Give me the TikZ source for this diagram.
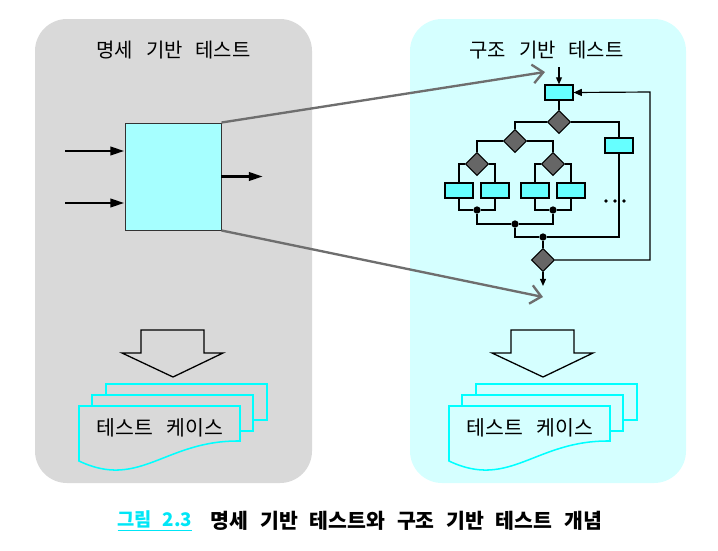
\documentclass[tikz,border=0pt]{standalone}
\usepackage{fontspec}
\setmainfont{Noto Sans CJK KR}[WordSpace=2.9]
\newfontfamily\capfont{Noto Sans CJK KR}[WordSpace=2.5]
\usetikzlibrary{arrows.meta,shapes.geometric}

\definecolor{specgray}{HTML}{D9D9D9}
\definecolor{structcyan}{HTML}{D5FFFF}
\definecolor{boxcyan}{HTML}{A6FFFF}
\definecolor{stepcyan}{HTML}{66FFFF}
\definecolor{dmdgray}{HTML}{666666}
\definecolor{linegray}{HTML}{6E6E6E}
\definecolor{doccyan}{HTML}{00FFFF}
\definecolor{capcyan}{HTML}{00E6F6}

\tikzset{
  stepbox/.style={draw=black, fill=stepcyan, line width=1pt, minimum width=0.84cm, minimum height=0.45cm, inner sep=0pt},
  decide/.style={diamond, draw=black, fill=dmdgray, line width=0.9pt, minimum width=0.69cm, minimum height=0.69cm, inner sep=0pt},
  joint/.style={circle, fill=black, minimum size=0.22cm, inner sep=0pt},
  flow/.style={line width=1pt},
  inarrow/.style={-{Triangle[length=12pt,width=7pt]}, line width=2.4pt},
  zoomline/.style={linegray, line width=2pt, -{Straight Barb[length=9pt,width=16pt]}},
  docsheet/.style={draw=doccyan, line width=1.3pt},
  paneltitle/.style={font=\fontsize{17}{19}\selectfont},
  doctext/.style={font=\fontsize{17.5}{19}\selectfont},
  captext/.style={font=\capfont\bfseries\fontsize{17.5}{19}\selectfont},
}

\begin{document}
\begin{tikzpicture}[x=0.03cm,y=-0.03cm]
  \useasboundingbox (0,0) rectangle (718,550);
  % panels
  \fill[specgray, rounded corners=0.96cm] (35,19) rectangle (312,483);
  \fill[structcyan, rounded corners=0.96cm] (410,19) rectangle (686,483);
  \node[paneltitle] (spectitle) at (173.5,50) {명세 기반 테스트};
  \node[paneltitle] (structtitle) at (546.5,50) {구조 기반 테스트};

  % black box
  \node[draw=black!80, fill=boxcyan, line width=0.8pt, minimum width=2.88cm, minimum height=3.21cm, inner sep=0pt] (spec) at (173,176.5) {};
  \coordinate (in1) at (65,151);
  \coordinate (in2) at (65,203);
  \coordinate (out) at (263,176.5);
  \draw[inarrow] (in1) -- (in1 -| spec.west);
  \draw[inarrow] (in2) -- (in2 -| spec.west);
  \draw[inarrow] (spec.east) -- (out);

  % control flow
  \coordinate (entry) at (559,67);
  \coordinate (exit) at (543,286);
  \coordinate (back) at (650,92);
  \node[stepbox] (t0) at (559,92.5) {};
  \node[decide] (d1) at (559,122) {};
  \node[decide] (d2) at (515,141) {};
  \node[decide] (d3) at (477,164) {};
  \node[decide] (d4) at (553,164) {};
  \node[stepbox] (b1) at (459,190.5) {};
  \node[stepbox] (b2) at (495,190.5) {};
  \node[stepbox] (b3) at (535,190.5) {};
  \node[stepbox] (b4) at (571,190.5) {};
  \node[stepbox] (br) at (619,145.5) {};
  \node[joint] (j1) at (477,210) {};
  \node[joint] (j2) at (553,210) {};
  \node[joint] (j3) at (515,224) {};
  \node[joint] (j4) at (543,237) {};
  \node[decide] (d5) at (543,260) {};

  \draw[flow, -{Triangle[length=6pt,width=5pt]}] (entry) -- (t0.north);
  \draw[flow] (t0) -- (d1);
  \draw[flow] (d1.west) -| (d2.north);
  \draw[flow] (d1.east) -| (br.north);
  \draw[flow] (d2.west) -| (d3.north);
  \draw[flow] (d2.east) -| (d4.north);
  \draw[flow] (d3.west) -| (b1.north);
  \draw[flow] (d3.east) -| (b2.north);
  \draw[flow] (d4.west) -| (b3.north);
  \draw[flow] (d4.east) -| (b4.north);
  \draw[flow] (b1.south) |- (j1) -| (b2.south);
  \draw[flow] (b3.south) |- (j2) -| (b4.south);
  \draw[flow] (j1) |- (j3) -| (j2);
  \draw[flow] (j3) |- (j4) -| (br.south);
  \draw[flow] (j4) -- (d5);
  \draw[flow, -{Triangle[length=6pt,width=5pt]}] (d5.south) -- (exit);
  \draw[flow, -{Triangle[length=7pt,width=6pt]}] (d5.east) -| (back) -- (t0.east);
  \fill (606,201) circle (1.8) (615,201) circle (1.8) (624,201) circle (1.8);

  % zoom lines
  \coordinate (zoomtop) at (545,72);
  \coordinate (zoombot) at (543,297);
  \draw[zoomline] (spec.north east) -- (zoomtop);
  \draw[zoomline] (spec.south east) -- (zoombot);

  % block arrows and test cases
  \foreach \ox/\bg/\nm in {0/specgray/spec, 370/structcyan/struct} {
    \begin{scope}[shift={(\ox,0)}]
      \draw[line width=1.1pt, fill=\bg] (141,330) -- (204,330) -- (204,353) -- (223,353) -- (173,377) -- (122,353) -- (141,353) -- cycle;
      \filldraw[docsheet, fill=\bg] (106,384) rectangle (267,420);
      \filldraw[docsheet, fill=\bg] (92,395) rectangle (253,431);
      \filldraw[docsheet, fill=\bg] (79,461) -- (79,406) -- (240,406) -- (240,441) .. controls (165,440) and (140,490) .. (79,461) -- cycle;
      \node[doctext] (case\nm) at (160,428) {테스트 케이스};
    \end{scope}
  }

  % caption
  \node[captext, text=capcyan, font=\capfont\bfseries\fontsize{16}{18}\selectfont] (figno) at (155,521) {\underline{그림 2.3}};
  \node[captext] (figcap) at (406.5,521) {명세 기반 테스트와 구조 기반 테스트 개념};
\end{tikzpicture}
\end{document}
